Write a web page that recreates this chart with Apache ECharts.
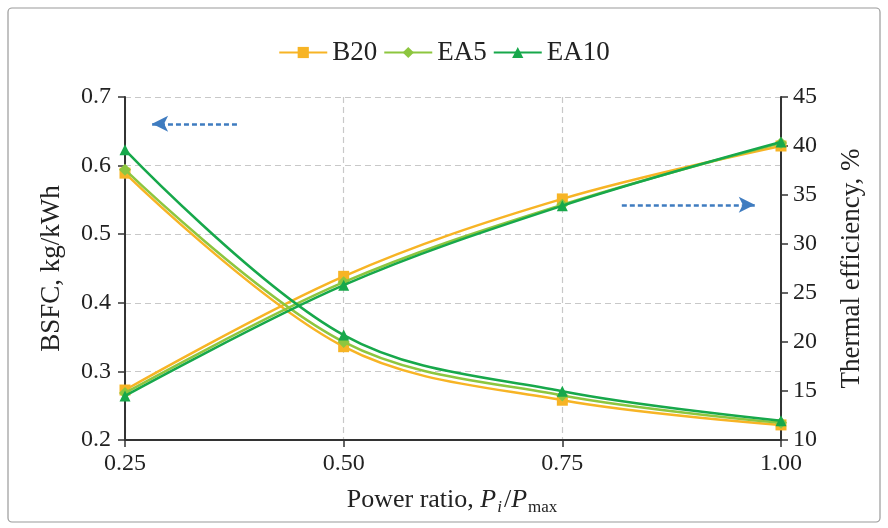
<!DOCTYPE html>
<html>
<head>
<meta charset="utf-8">
<script src="https://cdn.jsdelivr.net/npm/echarts@6/dist/echarts.min.js"></script>
<style>
  html, body { margin: 0; padding: 0; background: #fff; }
  #main { width: 888px; height: 528px; }
</style>
</head>
<body>
<div id="main"></div>
<script>
// power ratio on the x axis
var powerRatio = [0.25, 0.50, 0.75, 1.00];

// BSFC, kg/kWh (left axis)
var bsfcB20 = [0.589, 0.336, 0.258, 0.222];
var bsfcEA5 = [0.594, 0.343, 0.265, 0.225];
var bsfcEA10 = [0.623, 0.353, 0.271, 0.228];

// thermal efficiency, % (right axis)
var effB20 = [15.1, 26.7, 34.6, 40.0];
var effEA5 = [14.8, 26.1, 34.0, 40.3];
var effEA10 = [14.5, 25.8, 33.9, 40.4];

var seriesNames = ['B20', 'EA5', 'EA10'];
var seriesColors = ['#F7B425', '#8DC63F', '#17A84B'];
var seriesSymbols = ['rect', 'diamond', 'triangle'];

// arrows pointing at the axis each family belongs to
var arrowLeft = [[0.378, 0.661], [0.281, 0.661]];
var arrowRight = [[0.818, 34.0], [0.970, 34.0]];

var serif = '"Liberation Serif", "DejaVu Serif", serif';

function pairs(xs, ys) {
	var out = [];
	for (var i = 0; i < xs.length; i++) {
		out.push([xs[i], ys[i]]);
	}
	return out;
}

function makeSeries(idx, values, axisIdx, arrow) {
	var s = {
		name: seriesNames[idx],
		type: 'line',
		yAxisIndex: axisIdx,
		smooth: 0.35,
		data: pairs(powerRatio, values),
		symbol: seriesSymbols[idx],
		symbolSize: idx == 1 ? 12 : 11,
		showAllSymbol: true,
		lineStyle: { color: seriesColors[idx], width: 2.5 },
		itemStyle: { color: seriesColors[idx] },
		z: 3 + idx
	};
	if (arrow) {
		s.markLine = {
			silent: true,
			symbol: ['none', 'arrow'],
			symbolSize: [12, 16],
			label: { show: false },
			lineStyle: { color: '#3F7CC0', type: [5, 3], width: 2.5 },
			data: [[{ coord: arrow[0] }, { coord: arrow[1] }]]
		};
	}
	return s;
}

var myChart = echarts.init(document.getElementById('main'));

var option = {
	backgroundColor: '#fff',
	animation: false,
	textStyle: { fontFamily: serif },
	graphic: [{
		type: 'rect',
		shape: { x: 8, y: 8, width: 872, height: 514, r: 4 },
		style: { fill: 'none', stroke: '#9a9a9a', lineWidth: 1.2 },
		silent: true
	}],
	legend: {
		top: 34,
		left: 'center',
		data: seriesNames,
		itemWidth: 48,
		itemHeight: 14,
		itemGap: 6,
		textStyle: { fontFamily: serif, fontSize: 27, color: '#222' }
	},
	grid: { left: 125, right: 107, top: 97, bottom: 88 },
	xAxis: {
		type: 'value',
		min: 0.25,
		max: 1.0,
		interval: 0.25,
		axisLine: { lineStyle: { color: '#333', width: 2 } },
		axisTick: { show: true, length: 7, lineStyle: { color: '#333', width: 1.5 } },
		axisLabel: {
			fontFamily: serif, fontSize: 24, color: '#222', margin: 12,
			formatter: function (v) { return v.toFixed(2); }
		},
		splitLine: { show: true, lineStyle: { color: '#c8c8c8', type: [6, 4], width: 1.2 } },
		name: '{n|Power ratio, }{i|P}{si|i}{n|/}{i|P}{s|max}',
		nameLocation: 'middle',
		nameGap: 45,
		nameTextStyle: {
			rich: {
				n: { fontFamily: serif, fontSize: 26, color: '#222' },
				i: { fontFamily: serif, fontSize: 26, fontStyle: 'italic', color: '#222' },
				si: { fontFamily: serif, fontSize: 17, fontStyle: 'italic', color: '#222', verticalAlign: 'bottom', padding: [14, 2, 0, 1] },
				s: { fontFamily: serif, fontSize: 17, color: '#222', verticalAlign: 'bottom', padding: [14, 2, 0, 1] }
			}
		}
	},
	yAxis: [{
		type: 'value',
		min: 0.2,
		max: 0.7,
		interval: 0.1,
		position: 'left',
		axisLine: { show: true, lineStyle: { color: '#333', width: 2 } },
		axisTick: { show: true, length: 7, lineStyle: { color: '#333', width: 1.5 } },
		axisLabel: {
			fontFamily: serif, fontSize: 24, color: '#222', margin: 14,
			formatter: function (v) { return v.toFixed(1); }
		},
		splitLine: { show: true, lineStyle: { color: '#c8c8c8', type: [6, 4], width: 1.2 } },
		name: 'BSFC, kg/kWh',
		nameLocation: 'middle',
		nameGap: 60,
		nameTextStyle: { fontFamily: serif, fontSize: 27, color: '#222' }
	}, {
		type: 'value',
		min: 10,
		max: 45,
		interval: 5,
		position: 'right',
		axisLine: { show: true, lineStyle: { color: '#333', width: 2 } },
		axisTick: { show: true, length: 7, lineStyle: { color: '#333', width: 1.5 } },
		axisLabel: { fontFamily: serif, fontSize: 24, color: '#222', margin: 12 },
		splitLine: { show: false },
		name: 'Thermal efficiency, %',
		nameLocation: 'middle',
		nameGap: 57,
		nameRotate: 90,
		nameTextStyle: { fontFamily: serif, fontSize: 27, color: '#222' }
	}],
	series: [
		makeSeries(0, bsfcB20, 0, arrowLeft),
		makeSeries(1, bsfcEA5, 0),
		makeSeries(2, bsfcEA10, 0),
		makeSeries(0, effB20, 1, arrowRight),
		makeSeries(1, effEA5, 1),
		makeSeries(2, effEA10, 1)
	]
};

myChart.setOption(option);
</script>
</body>
</html>
